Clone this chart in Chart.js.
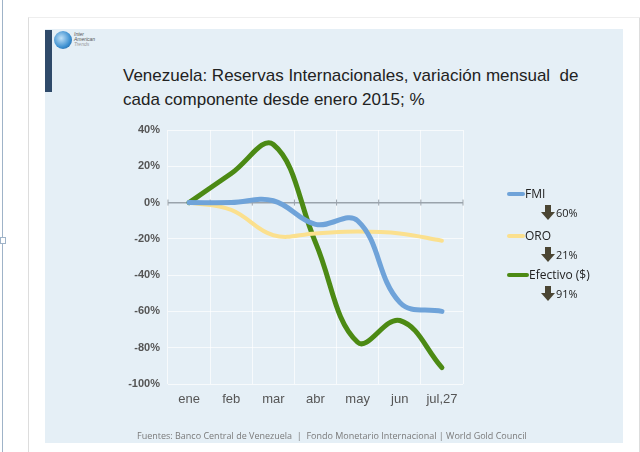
<!DOCTYPE html>
<html>
<head>
<meta charset="utf-8">
<script src="https://cdn.jsdelivr.net/npm/chart.js@4"></script>
<style>
  html, body { margin: 0; padding: 0; background: #fff; }
  body { width: 640px; height: 452px; position: relative; overflow: hidden; font-family: "Liberation Sans", Arial, sans-serif; }
  #edge { position: absolute; left: 2px; top: 0; width: 1px; height: 452px; background: #9fb3c8; }
  #edgeMark { position: absolute; left: 0; top: 237px; width: 4px; height: 5px; border: 1px solid #9fb3c8; background: #fff; }
  #slide { position: absolute; left: 28px; top: 17px; width: 610px; height: 440px; background: #fff;
           border-left: 1px solid #ddd; border-right: 2px solid #ddd; border-top: 1px solid #eee; }
  #panel { position: absolute; left: 45px; top: 29px; width: 578px; height: 414px; background: #e5eff6; }
  #bar { position: absolute; left: 45px; top: 30px; width: 7px; height: 62px; background: #2f4a6a; }
  #logo { position: absolute; left: 54px; top: 31px; width: 18px; height: 18px; border-radius: 50%;
          background: radial-gradient(circle at 40% 40%, #bfe0f7, #3b8fd0 60%, #1a4f86); }
  #logoText { position: absolute; left: 74px; top: 32px; font-size: 5px; line-height: 5px; color: #555; font-style: italic; }
  #title { position: absolute; left: 123px; top: 64px; font-size: 17px; line-height: 24px; color: #222; }
  #footer { position: absolute; left: 137px; top: 429px; font-family: "Open Sans", sans-serif; font-size: 9px; color: #7a7a7a; }
  #chart { position: absolute; left: 0; top: 0; }
  .lg { position: absolute; font-family: "Open Sans", sans-serif; font-size: 12px; color: #222; }
  .sw { position: absolute; height: 4px; border-radius: 2px; }
  .arr { position: absolute; }
  .pct { position: absolute; font-family: "Open Sans", sans-serif; font-size: 11px; color: #222; }
</style>
</head>
<body>
<div id="edge"></div>
<div id="edgeMark"></div>
<div id="slide"></div>
<div id="panel"></div>
<div id="bar"></div>
<div id="logo"></div>
<div id="logoText">Inter<br>American<br><span style="color:#999">Trends</span></div>
<div id="title">Venezuela: Reservas Internacionales, variación mensual &nbsp;de<br>cada componente desde enero 2015; %</div>
<canvas id="chart" width="640" height="452"></canvas>
<div id="legend"></div>
<div id="footer">Fuentes: Banco Central de Venezuela &nbsp;| &nbsp;Fondo Monetario Internacional | World Gold Council</div>
<script>
// months since January 2015 (last point: July 27)
const months = ['ene', 'feb', 'mar', 'abr', 'may', 'jun', 'jul,27'];

// cumulative change of each component, %
const fmi = [0, 0, 1, -12, -10, -55, -60];
const oro = [0, -4, -18, -17, -16, -17, -21];
const efectivo = [0, 16, 32, -22, -77, -65, -91];

// y axis ticks
const yTicks = [40, 20, 0, -20, -40, -60, -80, -100];

// legend: names and total decline
const seriesNames = ['FMI', 'ORO', 'Efectivo ($)'];
const declines = ['60%', '21%', '91%'];
const colors = ['#6fa3d9', '#fbe08e', '#4c8a14'];

// build the legend next to the plot
(function buildLegend() {
    const box = document.getElementById('legend');
    const rowY = [185, 227, 266];
    const swW = [18, 18, 22];
    seriesNames.forEach((name, i) => {
        const y = rowY[i];
        box.insertAdjacentHTML('beforeend',
            '<div class="sw" style="left:507px;top:' + (y + 7) + 'px;width:' + swW[i] + 'px;background:' + colors[i] + '"></div>' +
            '<div class="lg" style="left:' + (507 + swW[i]) + 'px;top:' + y + 'px">' + name + '</div>' +
            '<svg class="arr" style="left:541px;top:' + (y + 20) + 'px" width="14" height="15" viewBox="0 0 14 15">' +
            '<polygon points="4,0 10,0 10,7 14,7 7,15 0,7 4,7" fill="#4a4533"/></svg>' +
            '<div class="pct" style="left:556px;top:' + (y + 20) + 'px">' + declines[i] + '</div>');
    });
})();

new Chart(document.getElementById('chart'), {
    type: 'line',
    data: {
        labels: months,
        datasets: [
            { label: seriesNames[0], data: fmi, borderColor: colors[0], borderWidth: 5 },
            { label: seriesNames[1], data: oro, borderColor: colors[1], borderWidth: 4 },
            { label: seriesNames[2], data: efectivo, borderColor: colors[2], borderWidth: 5 }
        ].map(d => Object.assign(d, { tension: 0.4, pointRadius: 0, fill: false, borderCapStyle: 'round' }))
    },
    options: {
        responsive: false,
        animation: false,
        layout: { padding: { left: 100, right: 177, top: 130, bottom: 38 } },
        plugins: { legend: { display: false }, tooltip: { enabled: false } },
        scales: {
            x: {
                offset: true,
                grid: { color: 'rgba(255,255,255,0.7)', drawTicks: false, offset: true },
                border: { display: false },
                ticks: { color: '#555', font: { family: 'Liberation Sans', size: 13 }, padding: 8 },
                afterFit: s => { s.height = 30; }
            },
            y: {
                min: -100,
                max: 40,
                afterBuildTicks: s => { s.ticks = yTicks.map(v => ({ value: v })); },
                grid: {
                    color: c => c.tick && c.tick.value === 0 ? '#9aa3ab' : 'rgba(255,255,255,0.7)',
                    lineWidth: c => c.tick && c.tick.value === 0 ? 1.5 : 1,
                    drawTicks: false
                },
                border: { display: false },
                ticks: {
                    color: '#555',
                    font: { family: 'Liberation Sans', size: 11, weight: 'bold' },
                    padding: 8,
                    callback: v => v + '%'
                },
                afterFit: s => { s.width = 68; }
            }
        }
    },
    plugins: [{
        // small tick marks on the zero line, like the original category axis
        id: 'zeroTicks',
        beforeDatasetsDraw(chart) {
            const { ctx, scales: { x, y } } = chart;
            const y0 = y.getPixelForValue(0);
            ctx.save();
            ctx.strokeStyle = '#9aa3ab';
            ctx.lineWidth = 1;
            for (let i = 0; i <= months.length; i++) {
                const px = x.left + (x.right - x.left) * i / months.length;
                ctx.beginPath();
                ctx.moveTo(px, y0 - 3);
                ctx.lineTo(px, y0 + 3);
                ctx.stroke();
            }
            ctx.restore();
        }
    }]
});
</script>
</body>
</html>
